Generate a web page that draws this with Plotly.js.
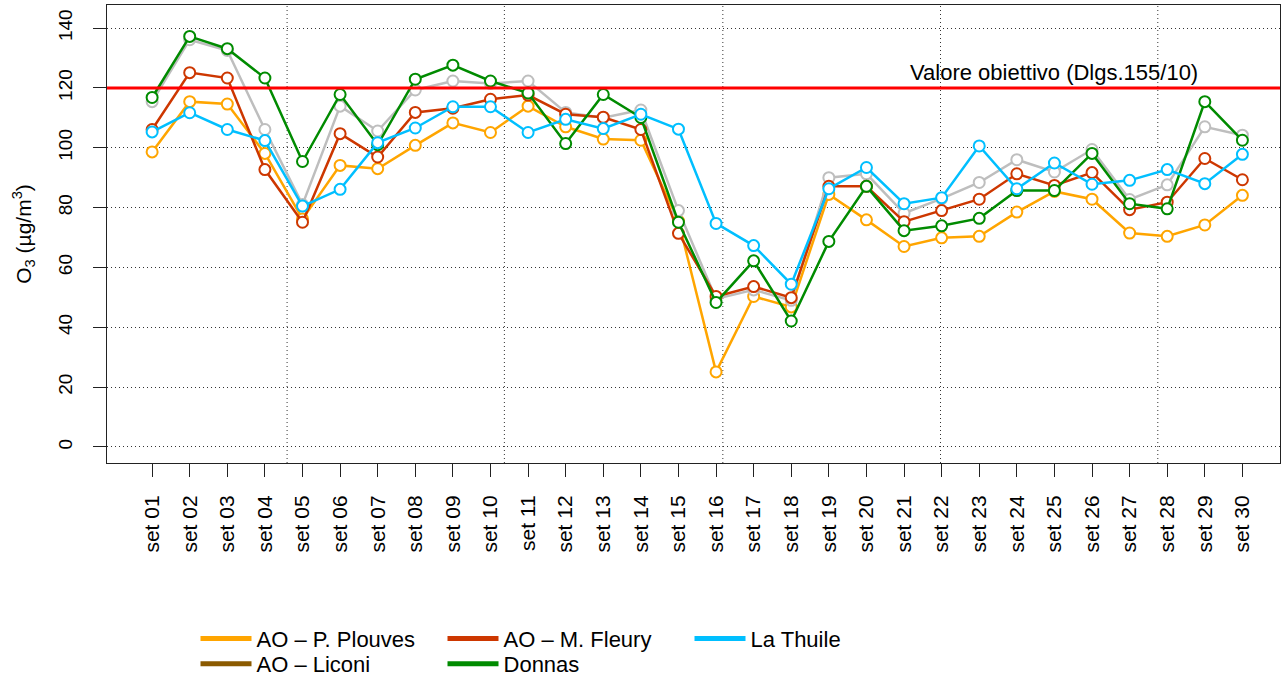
<!DOCTYPE html>
<html>
<head>
<meta charset="utf-8">
<script src="https://cdn.plot.ly/plotly-3.0.1.min.js"></script>
<style>html,body{margin:0;padding:0;background:#fff;}#chart{width:1282px;height:683px;}</style>
</head>
<body>
<div id="chart"></div>
<script>
const categories = ["set 01","set 02","set 03","set 04","set 05","set 06","set 07","set 08","set 09","set 10",
  "set 11","set 12","set 13","set 14","set 15","set 16","set 17","set 18","set 19","set 20",
  "set 21","set 22","set 23","set 24","set 25","set 26","set 27","set 28","set 29","set 30"];

const plouves = [98.6,115.4,114.6,98.1,76.2,94.1,93.0,100.8,108.3,105.1,113.9,107.0,102.9,102.5,75.5,25.1,50.3,46.8,84.4,75.9,67.0,69.9,70.4,78.5,85.4,82.8,71.5,70.4,74.2,84.1];
const liconi  = [115.4,136.1,132.5,106.1,81.0,113.9,105.6,119.3,122.3,121.5,122.3,111.8,110.0,112.6,79.0,49.5,52.5,49.0,90.0,91.3,78.1,83.0,88.4,96.0,91.9,99.4,82.7,87.6,107.0,104.2];
const fleury  = [106.1,125.1,123.3,92.7,75.1,104.7,96.9,111.8,113.2,116.2,117.6,111.2,110.2,106.1,71.4,50.3,53.6,49.9,87.1,87.1,75.3,79.0,82.8,91.3,87.4,91.7,79.3,81.8,96.4,89.3];
const donnas  = [116.8,137.2,133.1,123.3,95.4,117.8,101.0,122.9,127.6,122.3,118.3,101.4,117.8,110.1,75.1,48.3,62.2,42.1,68.7,87.1,72.3,73.9,76.4,85.7,85.7,98.1,81.3,79.6,115.4,102.5];
const thuile  = [105.3,111.7,106.1,102.4,80.5,86.1,101.7,106.6,113.7,113.7,105.1,109.5,106.4,111.2,106.2,74.7,67.3,54.4,86.3,93.4,81.3,83.3,100.6,86.3,94.9,87.8,89.1,92.7,88.0,97.8];

const targetValue = 120;
const targetLabel = "Valore obiettivo (Dlgs.155/10)";
const yTicks = [0,20,40,60,80,100,120,140];

const FONT = '"Liberation Sans", Arial, Helvetica, sans-serif';

function series(y, color) {
  return {
    x: categories, y: y, type: 'scatter', mode: 'lines+markers',
    line: {color: color, width: 2.5},
    marker: {symbol: 'circle', size: 11, color: '#ffffff', line: {color: color, width: 2}},
    showlegend: false, hoverinfo: 'skip', cliponaxis: false
  };
}
function legendEntry(name, color, legendId) {
  return {x: [null], y: [null], type: 'scatter', mode: 'lines', name: name,
    line: {color: color, width: 5}, showlegend: true, legend: legendId};
}

const cOr = '#FFA500', cGr = '#BEBEBE', cRd = '#CD3700', cGn = '#008B00', cBl = '#00BFFF', cBr = '#8B5A00';

const traces = [
  series(plouves, cOr),
  series(liconi, cGr),
  series(fleury, cRd),
  series(donnas, cGn),
  series(thuile, cBl),
  legendEntry('AO \u2013 P. Plouves', cOr, 'legend'),
  legendEntry('AO \u2013 M. Fleury', cRd, 'legend'),
  legendEntry('La Thuile', cBl, 'legend'),
  legendEntry('AO \u2013 Liconi', cBr, 'legend2'),
  legendEntry('Donnas', cGn, 'legend2')
];

const DOT = '1px,3px';
const vGrid = [3.59, 9.37, 15.18, 20.97, 26.75];
const shapes = vGrid.map(v => ({type: 'line', xref: 'x', yref: 'paper', x0: v, x1: v, y0: 0, y1: 1,
  line: {color: '#333', width: 1, dash: DOT}, layer: 'below'}));
shapes.push({type: 'line', xref: 'paper', yref: 'y', x0: 0, x1: 1, y0: targetValue, y1: targetValue,
  line: {color: '#FF0000', width: 3}});

const legendBase = {orientation: 'h', xref: 'container', yref: 'container', xanchor: 'left', yanchor: 'middle',
  itemwidth: 51, entrywidth: 181, entrywidthmode: 'pixels', font: {family: FONT, size: 22, color: '#000'},
  bgcolor: 'rgba(0,0,0,0)', itemclick: false, itemdoubleclick: false};

const layout = {
  width: 1282, height: 683,
  margin: {l: 107, r: 2, t: 5, b: 220},
  paper_bgcolor: '#fff', plot_bgcolor: '#fff',
  font: {family: FONT, size: 18, color: '#000'},
  xaxis: {type: 'category', range: [-1.2, 30.0], tickangle: -90, ticks: 'outside', ticklen: 13,
    tickcolor: '#222', tickwidth: 1, showgrid: false, showline: true, mirror: true, linecolor: '#222',
    linewidth: 1, zeroline: false, ticklabelstandoff: 10, tickfont: {family: FONT, size: 21, color: '#000'}},
  yaxis: {range: [-5.35, 147.7], tickvals: yTicks, ticktext: yTicks.map(String), tickangle: -90,
    ticks: 'outside', ticklen: 13, tickcolor: '#222', showgrid: true, gridcolor: '#333', griddash: DOT,
    gridwidth: 1, showline: true, mirror: true, linecolor: '#222', linewidth: 1, zeroline: false,
    ticklabelstandoff: 13, tickfont: {family: FONT, size: 19, color: '#000'},
    title: {text: 'O<sub>3</sub> (\u00b5g/m<sup>3</sup>)', font: {family: FONT, size: 21, color: '#000'}, standoff: 18}},
  shapes: shapes,
  annotations: [{x: 24, y: targetValue, xref: 'x', yref: 'y', text: targetLabel, showarrow: false,
    yanchor: 'bottom', yshift: 1, font: {family: FONT, size: 22, color: '#000'}}],
  legend: Object.assign({}, legendBase, {x: 0.1525, y: 0.065}),
  legend2: Object.assign({}, legendBase, {x: 0.1525, y: 0.028}),
  hovermode: false
};

Plotly.newPlot('chart', traces, layout, {displayModeBar: false, staticPlot: true});
</script>
</body>
</html>
